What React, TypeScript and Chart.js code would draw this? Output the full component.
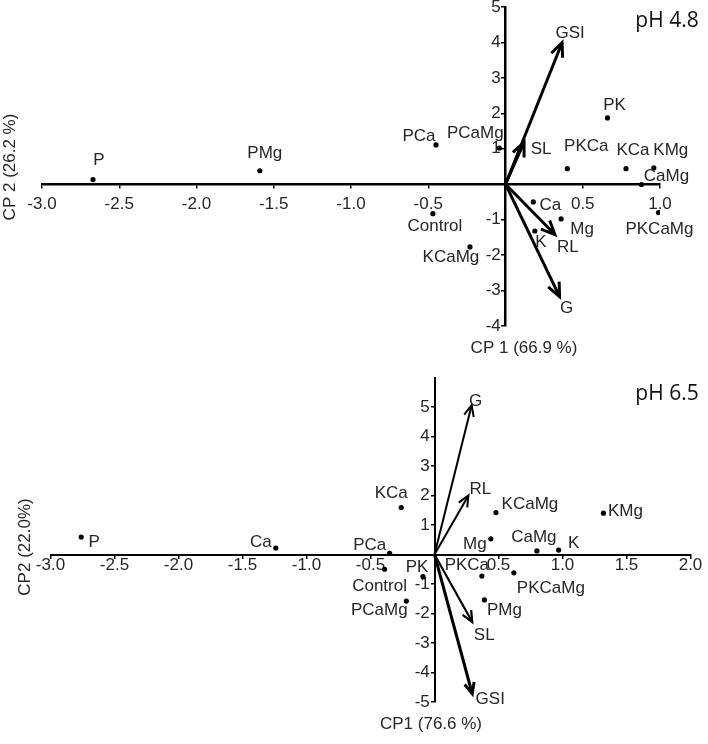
import { useEffect, useRef } from 'react';
import { Chart, registerables } from 'chart.js';

Chart.register(...registerables);

// ---------- pH 4.8 ----------
const topTreatments = ['P', 'PMg', 'PCa', 'PCaMg', 'PK', 'PKCa', 'KCa', 'KMg', 'CaMg', 'PKCaMg', 'Ca', 'Mg', 'K', 'Control', 'KCaMg'];
const topCP1 = [-2.67, -1.59, -0.45, -0.04, 0.66, 0.40, 0.78, 0.96, 0.88, 0.99, 0.18, 0.36, 0.19, -0.47, -0.23];
const topCP2 = [0.13, 0.38, 1.11, 1.02, 1.87, 0.44, 0.44, 0.46, -0.01, -0.80, -0.50, -0.98, -1.32, -0.83, -1.77];
const topVariables = ['GSI', 'SL', 'RL', 'G'];
const topVarCP1 = [0.366, 0.12, 0.32, 0.35];
const topVarCP2 = [3.99, 1.18, -1.42, -3.17];
const topXTicks = [-3.0, -2.5, -2.0, -1.5, -1.0, -0.5, 0.5, 1.0];
const topYTicks = [5, 4, 3, 2, 1, -1, -2, -3, -4];

// ---------- pH 6.5 ----------
const botTreatments = ['P', 'Ca', 'KCa', 'PCa', 'Control', 'PK', 'PCaMg', 'KCaMg', 'KMg', 'Mg', 'CaMg', 'K', 'PKCa', 'PKCaMg', 'PMg'];
const botCP1 = [-2.76, -1.24, -0.26, -0.35, -0.39, -0.09, -0.22, 0.48, 1.32, 0.44, 0.80, 0.97, 0.37, 0.62, 0.39];
const botCP2 = [0.59, 0.22, 1.59, 0.04, -0.50, -0.75, -1.58, 1.42, 1.40, 0.53, 0.12, 0.15, -0.73, -0.62, -1.54];
const botVariables = ['G', 'RL', 'SL', 'GSI'];
const botVarCP1 = [0.29, 0.265, 0.295, 0.295];
const botVarCP2 = [5.06, 2.0, -2.29, -4.72];
const botXTicks = [-3.0, -2.5, -2.0, -1.5, -1.0, -0.5, 0.5, 1.0, 1.5, 2.0];
const botYTicks = [5, 4, 3, 2, 1, -1, -2, -3, -4, -5];

// ---------- label placement (styling, pixel offsets from the mark) ----------
const topPointLabelOffsets = [[6, -19], [5, -17], [-17, -9], [-24, -15], [7, -13], [19, -22], [7, -18], [17, -18], [25, -8], [1, 17], [17, 3], [21, 10], [6, 11], [2, 13], [-19, 10]];
const topVarLabelOffsets = [[8, -9], [17, 7], [13, 13], [7, 12]];
const botPointLabelOffsets = [[13, 5], [-15, -6], [-10, -14], [-20, -8], [-5, 17], [-6, -9], [-27, 9], [34, -8], [22, -2], [-16, 5], [-3, -14], [15, -7], [-15, -11], [37, 16], [20, 10]];
const botVarLabelOffsets = [[4, -4], [12, -6], [12, 13], [18, 6]];

const FONT = '"Liberation Sans", Arial, sans-serif';
const TEXT = '#262626';
const FS = 17;

type PanelCfg = {
  names: string[]; cp1: number[]; cp2: number[];
  vars: string[]; vx: number[]; vy: number[];
  xTicks: number[]; yTicks: number[];
  xMin: number; xMax: number; yMin: number; yMax: number;
  pad: { left: number; right: number; top: number; bottom: number };
  pointOffsets: number[][]; varOffsets: number[][];
  arrowWidths: number[]; headLen: number;
  xTitle: string; xTitlePos: number[];
  yTitle: string; yTitlePos: number[];
  tag: string; tagPos: number[];
  xLabelPad: number; axisWidth: number;
};

function buildConfig(c: PanelCfg): any {
  const labelPlugin = {
    id: 'biplotLabels',
    afterDatasetsDraw(chart: any) {
      const ctx = chart.ctx;
      ctx.save();
      // arrow heads
      c.vars.forEach((_, i) => {
        const meta = chart.getDatasetMeta(i + 1);
        const p0 = meta.data[0];
        const p1 = meta.data[1];
        const ang = Math.atan2(p1.y - p0.y, p1.x - p0.x);
        const a = Math.PI / 7.5;
        ctx.strokeStyle = '#000';
        ctx.lineWidth = c.arrowWidths[i];
        ctx.lineJoin = 'miter';
        ctx.lineCap = 'butt';
        ctx.beginPath();
        ctx.moveTo(p1.x - c.headLen * Math.cos(ang - a), p1.y - c.headLen * Math.sin(ang - a));
        ctx.lineTo(p1.x, p1.y);
        ctx.lineTo(p1.x - c.headLen * Math.cos(ang + a), p1.y - c.headLen * Math.sin(ang + a));
        ctx.stroke();
      });
      ctx.fillStyle = TEXT;
      ctx.font = `${FS}px ${FONT}`;
      ctx.textAlign = 'center';
      ctx.textBaseline = 'middle';
      const pm = chart.getDatasetMeta(0);
      c.names.forEach((n, i) => {
        const el = pm.data[i];
        const o = c.pointOffsets[i];
        ctx.fillText(n, el.x + o[0], el.y + o[1]);
      });
      c.vars.forEach((n, i) => {
        const el = chart.getDatasetMeta(i + 1).data[1];
        const o = c.varOffsets[i];
        ctx.fillText(n, el.x + o[0], el.y + o[1]);
      });
      // axis titles
      ctx.fillText(c.xTitle, c.xTitlePos[0], c.xTitlePos[1]);
      ctx.save();
      ctx.translate(c.yTitlePos[0], c.yTitlePos[1]);
      ctx.rotate(-Math.PI / 2);
      ctx.fillText(c.yTitle, 0, 0);
      ctx.restore();
      // panel tag
      ctx.fillStyle = '#111';
      ctx.font = `21px "Open Sans", sans-serif`;
      ctx.textBaseline = 'alphabetic';
      ctx.fillText(c.tag, c.tagPos[0], c.tagPos[1]);
      ctx.restore();
    },
  };

  const zeroPad = (s: any) => { s.paddingLeft = 0; s.paddingRight = 0; s.paddingTop = 0; s.paddingBottom = 0; };

  return {
    type: 'scatter',
    data: {
      datasets: [
        {
          data: c.cp1.map((x, i) => ({ x, y: c.cp2[i] })),
          pointRadius: 2.6,
          pointBackgroundColor: '#000',
          pointBorderColor: '#000',
          pointBorderWidth: 0,
        },
        ...c.vars.map((_, i) => ({
          type: 'line',
          data: [{ x: 0, y: 0 }, { x: c.vx[i], y: c.vy[i] }],
          borderColor: '#000',
          borderWidth: c.arrowWidths[i],
          pointRadius: 0,
          fill: false,
          showLine: true,
          tension: 0,
        })),
      ],
    },
    options: {
      responsive: false,
      animation: false,
      events: [],
      layout: { padding: c.pad },
      plugins: { legend: { display: false }, tooltip: { enabled: false } },
      scales: {
        x: {
          type: 'linear',
          min: c.xMin,
          max: c.xMax,
          position: { y: 0 },
          afterBuildTicks: (s: any) => { s.ticks = c.xTicks.map((v) => ({ value: v })); },
          afterFit: zeroPad,
          grid: { drawOnChartArea: false, drawTicks: true, tickLength: 3, color: '#000', lineWidth: 1.5 },
          border: { display: true, color: '#000', width: c.axisWidth },
          ticks: {
            color: TEXT,
            font: { family: FONT, size: FS },
            padding: c.xLabelPad,
            maxRotation: 0,
            autoSkip: false,
            callback: (v: any) => Number(v).toFixed(1),
          },
        },
        y: {
          type: 'linear',
          min: c.yMin,
          max: c.yMax,
          position: { x: 0 },
          afterBuildTicks: (s: any) => { s.ticks = c.yTicks.map((v) => ({ value: v })); },
          afterFit: zeroPad,
          grid: { drawOnChartArea: false, drawTicks: true, tickLength: 3, color: '#000', lineWidth: 1.5 },
          border: { display: true, color: '#000', width: c.axisWidth },
          ticks: {
            color: TEXT,
            font: { family: FONT, size: FS },
            autoSkip: false,
            callback: (v: any) => `${v} `,
          },
        },
      },
    },
    plugins: [labelPlugin],
  };
}

const topCfg: PanelCfg = {
  names: topTreatments, cp1: topCP1, cp2: topCP2,
  vars: topVariables, vx: topVarCP1, vy: topVarCP2,
  xTicks: topXTicks, yTicks: topYTicks,
  xMin: -3, xMax: 1, yMin: -4, yMax: 5,
  pad: { left: 42, right: 48, top: 7, bottom: 46 },
  pointOffsets: topPointLabelOffsets, varOffsets: topVarLabelOffsets,
  arrowWidths: [3, 3, 3, 3], headLen: 15,
  xTitle: 'CP 1 (66.9 %)', xTitlePos: [524, 348],
  yTitle: 'CP 2 (26.2 %)', yTitlePos: [10, 167],
  tag: 'pH 4.8', tagPos: [667, 27],
  xLabelPad: 7, axisWidth: 2.5,
};

const botCfg: PanelCfg = {
  names: botTreatments, cp1: botCP1, cp2: botCP2,
  vars: botVariables, vx: botVarCP1, vy: botVarCP2,
  xTicks: botXTicks, yTicks: botYTicks,
  xMin: -3, xMax: 2, yMin: -5, yMax: 6,
  pad: { left: 50.5, right: 17.5, top: 5.5, bottom: 42 },
  pointOffsets: botPointLabelOffsets, varOffsets: botVarLabelOffsets,
  arrowWidths: [2, 2, 2.2, 3], headLen: 12,
  xTitle: 'CP1 (76.6 %)', xTitlePos: [431, 352],
  yTitle: 'CP2 (22.0%)', yTitlePos: [25, 175],
  tag: 'pH 6.5', tagPos: [667, 28],
  xLabelPad: -2, axisWidth: 2,
};

function Panel({ cfg }: { cfg: PanelCfg }) {
  const ref = useRef<HTMLCanvasElement | null>(null);
  useEffect(() => {
    if (!ref.current) return;
    const chart = new Chart(ref.current, buildConfig(cfg));
    return () => chart.destroy();
  }, [cfg]);
  return <canvas ref={ref} width={708} height={372} style={{ display: 'block', width: 708, height: 372 }} />;
}

export default function App() {
  return (
    <div style={{ position: 'fixed', left: 0, top: 0, width: 708, height: 744, background: '#fff' }}>
      <Panel cfg={topCfg} />
      <Panel cfg={botCfg} />
    </div>
  );
}
